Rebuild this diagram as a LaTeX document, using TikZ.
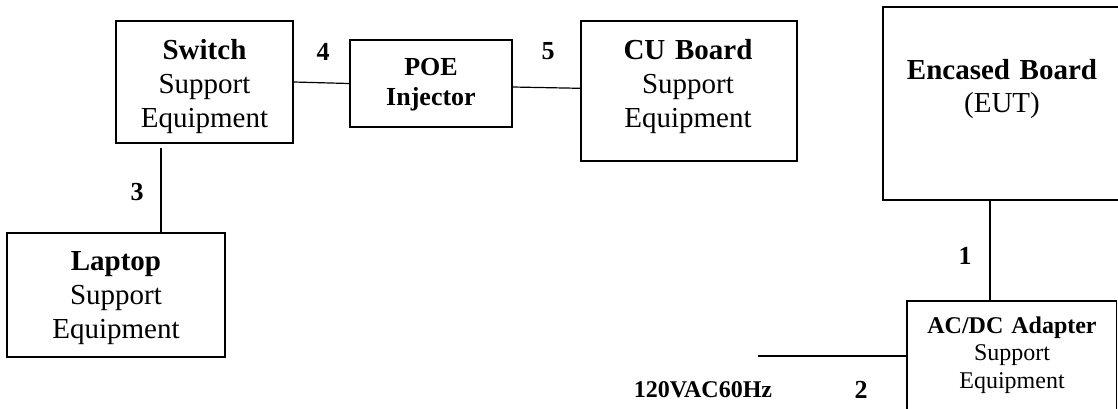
\documentclass[tikz,border=0pt]{standalone}
\usepackage{fontspec}
\setmainfont{Liberation Serif}
\begin{document}
\begin{tikzpicture}[x=1pt,y=-1pt,
  box/.style={draw, line width=1.6pt, inner sep=0pt},
  wire/.style={line width=1.2pt},
  bigtext/.style={font=\fontsize{29}{34}\selectfont, align=center, text width=240pt, anchor=base, inner sep=0pt},
  poetext/.style={font=\fontsize{26}{30}\selectfont\bfseries, align=center, text width=160pt, anchor=base, inner sep=0pt},
  smalltext/.style={font=\fontsize{24}{27.5}\selectfont, align=center, text width=200pt, anchor=base, inner sep=0pt},
  num/.style={font=\fontsize{26}{30}\selectfont\bfseries, inner sep=0pt},
  mainslabel/.style={font=\fontsize{24}{28}\selectfont\bfseries, inner sep=0pt}]
\useasboundingbox (0,0) rectangle (1118,408);
\clip (0,0) rectangle (1118,408);

% equipment boxes
\node[box, minimum width=177pt, minimum height=122pt] (sw)  at (204.5,82)   {};
\node[box, minimum width=162pt, minimum height=87pt]  (poe) at (431,83.5)   {};
\node[box, minimum width=216pt, minimum height=140pt] (cu)  at (689,91)     {};
\node[box, minimum width=238pt, minimum height=193pt] (enc) at (1002,103.5) {};
\node[box, minimum width=218pt, minimum height=124pt] (lap) at (116,295)    {};
\node[box, minimum width=209.5pt, minimum height=129pt] (ac) at (1011.75,365.5) {};

% box captions
\node[bigtext]   (swt)  at (204.5,59) {\textbf{Switch}\\Support\\Equipment};
\node[poetext]   (poet) at (431,75)   {POE\\Injector};
\node[bigtext]   (cut)  at (688,59)   {\textbf{CU Board}\\Support\\Equipment};
\node[bigtext, font=\fontsize{29}{33}\selectfont] (enct) at (1002,79) {\textbf{Encased Board}\\(EUT)};
\node[bigtext]   (lapt) at (116,270)  {\textbf{Laptop}\\Support\\Equipment};
\node[smalltext] (act)  at (1012,333) {\textbf{AC/DC Adapter}\\Support\\Equipment};

% helper points for the cables
\coordinate (l3) at (161,0);
\coordinate (l1) at (990,0);
\coordinate (mains) at (758,356);

% cables
\draw[wire] (sw.east) -- (poe.west);
\draw[wire] ([yshift=-3.5pt]poe.east) -- ([yshift=2.7pt]cu.west);
\draw[wire] ([yshift=-4pt]sw.south -| l3) -- (lap.north -| l3);
\draw[wire] (enc.south -| l1) -- (ac.north -| l1);
\draw[wire] (mains) -- (mains -| ac.west);

% cable numbers
\node[num] (n4) at (323,52)  {4};
\node[num] (n5) at (548,51)  {5};
\node[num] (n3) at (137,192) {3};
\node[num] (n1) at (965,256) {1};
\node[num] (n2) at (861,390) {2};
\node[mainslabel] (acin) at (703,390) {120VAC60Hz};
\end{tikzpicture}
\end{document}
